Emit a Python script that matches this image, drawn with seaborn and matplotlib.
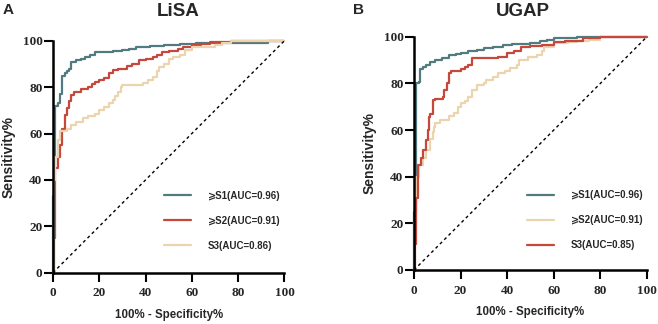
import matplotlib
matplotlib.use("Agg")
import matplotlib.pyplot as plt
import seaborn as sns

# ---- data (fpr %, tpr %) ----
lisa_s1_x = [0, 0, 0.3, 1, 2, 3, 4, 5, 6, 7, 8, 10, 12, 14, 16, 18, 22, 26, 30, 33, 36, 42, 48, 55, 62, 93, 100]
lisa_s1_y = [0, 33, 46, 72, 73, 77, 85, 86, 87, 88, 91, 91.5, 92, 93, 94, 95, 95.3, 95.6, 96, 96.6, 97.3, 97.8, 98.2, 98.6, 99.2, 100, 100]

lisa_s2_x = [0, 0.5, 1, 2, 3, 4, 5, 6, 7, 8, 9, 12, 15, 17, 18, 20, 22, 24, 26, 28, 32, 34, 37, 40, 43, 45, 47, 50, 54, 56, 60, 64, 68, 74, 77, 100]
lisa_s2_y = [0, 15, 45, 50, 55, 62, 68, 71, 74, 76.5, 78, 79, 80, 81.5, 82, 83, 84, 86, 87.5, 88, 89, 90, 91.5, 92, 93, 94, 95, 95.5, 96.5, 97.5, 98, 98.8, 99.3, 99.6, 100, 100]

lisa_s3_x = [0, 0.3, 0.6, 1, 2, 3, 6, 8, 10, 13, 15, 18, 20, 22, 24, 26, 27, 28, 29.5, 30, 39, 41, 43, 45, 46, 48, 50, 52, 55, 57, 60, 70, 73, 77, 100]
lisa_s3_y = [0, 20, 40, 50, 57, 61, 62, 63.5, 65, 66.5, 67.5, 68.5, 70, 71.5, 73, 74.5, 76, 78, 80, 81, 81.6, 83, 84.5, 87, 88.5, 90, 92, 93, 94, 96, 97.5, 98.2, 99, 100, 100]

ugap_s1_x = [0, 0, 1, 2, 2.5, 4, 5, 7, 9, 12, 15, 18, 20, 23, 27, 30, 34, 38, 42, 50, 54, 57, 60, 70, 80, 100]
ugap_s1_y = [0, 25, 80, 80.5, 86, 87, 88, 89, 90, 91, 92, 92.5, 93.2, 93.8, 94.5, 95, 95.7, 96.4, 97, 97.4, 98, 98.6, 99.4, 99.7, 100, 100]

ugap_s2_x = [0, 0, 1, 2, 4, 5, 7, 8, 8.5, 9, 11, 15, 17, 19, 20, 22, 23, 25, 27, 30, 31, 34, 36, 39, 41, 44, 45, 49, 53, 55, 56, 60, 66, 70, 75, 80, 100]
ugap_s2_y = [0, 20, 40, 45, 48, 51.4, 56, 59, 61.4, 63, 64.3, 66, 67.5, 70, 71.4, 72.5, 74.3, 77, 79.3, 80, 81.4, 82.9, 84.3, 85.5, 86.4, 88, 90, 91.4, 92.1, 94, 95.7, 97.1, 97.6, 98, 98.6, 100, 100]

ugap_s3_x = [0, 0.5, 1, 1.5, 3, 4, 5, 6, 6.5, 7, 8, 8.3, 9, 12.6, 13, 14, 15, 16, 20, 22, 23, 24.7, 33, 36, 40, 43, 45.9, 50, 55, 60, 65, 72.7, 80, 100]
ugap_s3_y = [0, 11, 31, 45, 48, 51.4, 55.7, 60, 65.7, 67, 70, 72.9, 73.5, 74.3, 77, 80, 84.3, 85.5, 86, 87, 88, 90.7, 90.7, 91.5, 92.9, 94, 95.7, 96, 96.5, 97.9, 98.3, 99.3, 100, 100]

diag = [0, 100]
ticks = [0, 20, 40, 60, 80, 100]

lisa_labels = ["⩾S1(AUC=0.96)", "⩾S2(AUC=0.91)", "S3(AUC=0.86)"]
ugap_labels = ["⩾S1(AUC=0.96)", "⩾S2(AUC=0.91)", "S3(AUC=0.85)"]

teal = "#527b80"
red = "#c4483c"
beige = "#ecd4ae"

sns.set_style("ticks")
plt.rcParams["font.family"] = ["Liberation Sans", "DejaVu Sans"]
sans = ["Liberation Sans", "DejaVu Sans"]
tick_font = {"family": "Liberation Serif", "weight": "bold", "size": 9.5}

fig = plt.figure(figsize=(6.58, 3.24), dpi=100)
ax1 = fig.add_axes([0.0805, 0.1583, 0.3518, 0.716])
ax2 = fig.add_axes([0.6292, 0.1667, 0.354, 0.720])


def draw_panel(ax, curves, labels, legend_anchor):
    for (xs, ys, col), lab in zip(curves, labels):
        sns.lineplot(x=xs, y=ys, ax=ax, color=col, lw=1.6, drawstyle="steps-post",
                     estimator=None, sort=False, label=lab, clip_on=False)
    ax.plot(diag, diag, color="black", lw=1.0, ls=(0, (2.2, 2.2)))
    ax.set_xlim(0, 100)
    ax.set_ylim(0, 100)
    ax.set_xticks(ticks)
    ax.set_yticks(ticks)
    ax.set_xticklabels([str(t) for t in ticks], fontdict=tick_font)
    ax.set_yticklabels([str(t) for t in ticks], fontdict=tick_font)
    for sp in ["top", "right"]:
        ax.spines[sp].set_visible(False)
    for sp in ["left", "bottom"]:
        ax.spines[sp].set_linewidth(1.8)
        ax.spines[sp].set_color("black")
    ax.tick_params(axis="both", direction="out", length=6.5, width=1.5, color="black")
    ax.tick_params(axis="y", pad=1)
    ax.tick_params(axis="x", pad=4)
    ax.set_xlabel("100% - Specificity%", fontsize=8.3, fontweight="bold", labelpad=7)
    ax.set_ylabel("Sensitivity%", fontsize=10, fontweight="bold", labelpad=5)
    ax.legend(loc="lower left", bbox_to_anchor=legend_anchor, frameon=False,
              prop={"family": sans, "weight": "bold", "size": 7.0},
              handlelength=2.8, handletextpad=1.7, labelspacing=1.55,
              borderpad=0, borderaxespad=0)


draw_panel(ax1, [(lisa_s1_x, lisa_s1_y, teal), (lisa_s2_x, lisa_s2_y, red),
                 (lisa_s3_x, lisa_s3_y, beige)], lisa_labels, (0.48, 0.095))
draw_panel(ax2, [(ugap_s1_x, ugap_s1_y, teal), (ugap_s2_x, ugap_s2_y, beige),
                 (ugap_s3_x, ugap_s3_y, red)], ugap_labels, (0.485, 0.085))

fig.text(178 / 658, 1 - 11 / 324, "LiSA", ha="center", va="center", fontsize=13.5, fontweight="bold")
fig.text(523 / 658, 1 - 11 / 324, "UGAP", ha="center", va="center", fontsize=13.5, fontweight="bold")
fig.text(8 / 658, 1 - 10 / 324, "A", ha="center", va="center", fontsize=11, fontweight="bold")
fig.text(358 / 658, 1 - 10 / 324, "B", ha="center", va="center", fontsize=11, fontweight="bold")

fig.savefig("out.png", dpi=100)
